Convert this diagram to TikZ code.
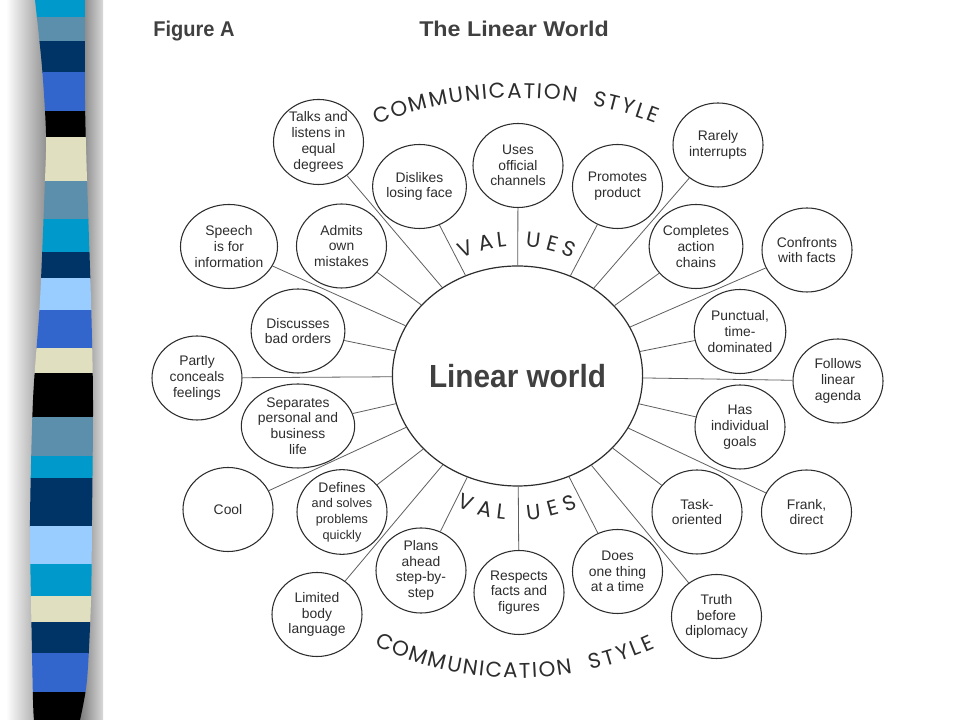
\documentclass[tikz,border=0pt]{standalone}
\usepackage{graphicx}
\usepackage{fontspec}
\setmainfont{Liberation Sans}
\newfontfamily\arcfont{Poppins}
\usetikzlibrary{shapes.geometric,decorations.text,calc}

\definecolor{sCyan}{RGB}{0,153,204}
\definecolor{sSteel}{RGB}{92,143,172}
\definecolor{sNavy}{RGB}{0,51,102}
\definecolor{sRoyal}{RGB}{51,102,204}
\definecolor{sBeige}{RGB}{224,224,192}
\definecolor{sLight}{RGB}{153,204,255}
\definecolor{sBlack}{RGB}{0,0,0}
\definecolor{ink}{RGB}{45,45,45}
\definecolor{hubink}{RGB}{64,64,64}
\definecolor{wire}{RGB}{95,95,95}

\begin{document}
\begin{tikzpicture}[x=0.75pt,y=0.75pt,
  bubble/.style={ellipse, draw=ink, line width=0.8pt, fill=white,
    minimum width=67.5pt, minimum height=63pt, inner sep=0pt, align=center,
    text=ink, font=\fontsize{10.4}{11.8}\selectfont},
  spoke/.style={draw=wire, line width=0.6pt},
  arcletter/.style={inner sep=0pt, text=ink, font=\arcfont\fontsize{16}{16}\selectfont},
  titletext/.style={inner sep=0pt, anchor=base west, text=hubink, font=\bfseries\fontsize{16}{16}\selectfont},
]
\useasboundingbox (0,0) rectangle (960,720);
\fill[white] (0,0) rectangle (960,720);

% ---- decorative stripe with shadows ----
\shade[left color=white, right color=black!45] (6,0) rectangle (48,720);
\shade[left color=black!55, right color=black!15] (78,0) rectangle (103,720);
\begin{scope}
  \clip plot[smooth] coordinates {(35,720) (42,653) (46,587) (45,540) (40,420) (33,320) (30,200) (31,120) (33,20) (34,0)}
     -- plot[smooth] coordinates {(80,0) (87,40) (91,120) (92,200) (93,320) (91,420) (87,540) (85,620) (85,720)} -- cycle;
  \foreach \a/\b/\c in {702/720/sCyan, 678/702/sSteel, 647/678/sNavy, 608/647/sRoyal,
      582/608/sBlack, 538/582/sBeige, 500/538/sSteel, 467/500/sCyan, 441/467/sNavy,
      409/441/sLight, 371/409/sRoyal, 346/371/sBeige, 302/346/sBlack, 263/302/sSteel,
      241/263/sCyan, 193/241/sNavy, 155/193/sLight, 123/155/sCyan, 97/123/sBeige,
      66/97/sNavy, 27/66/sRoyal, 0/27/sBlack}
    \fill[\c] (20,\a) rectangle (100,\b+0.6);
\end{scope}

% ---- titles ----
\node[titletext] (figA) at (153,683) {\scalebox{0.94}[1]{Figure A}};
\node[titletext] (figT) at (419,683) {\scalebox{1.09}[1]{The Linear World}};

% ---- hub ----
\node[ellipse, draw=ink, line width=0.9pt, fill=white, minimum width=173.25pt,
  minimum height=165pt, inner sep=0pt, text=hubink,
  font=\bfseries\fontsize{24}{24}\selectfont] (hub) at (517.5,344)
  {\scalebox{0.93}[1]{Linear world}};

% ---- bubbles ----
\node[bubble] (talks)     at (318.5,578)   {Talks and\\listens in\\equal\\degrees};
\node[bubble] (dislikes)  at (419.5,533.5) {Dislikes\\losing face};
\node[bubble] (uses)      at (518,554.5)   {Uses\\official\\channels};
\node[bubble] (promotes)  at (617.5,533.5) {Promotes\\product};
\node[bubble] (rarely)    at (718,575)     {Rarely\\interrupts};
\node[bubble] (completes) at (696,473.5)   {Completes\\action\\chains};
\node[bubble] (confronts) at (807,470)     {Confronts\\with facts};
\node[bubble] (punctual)  at (740,388.5)   {Punctual,\\time-\\dominated};
\node[bubble] (follows)   at (838,339)     {Follows\\linear\\agenda};
\node[bubble] (has)       at (740,293)     {Has\\individual\\goals};
\node[bubble] (task)      at (697,208)     {Task-\\oriented};
\node[bubble] (frank)     at (806.5,208)   {Frank,\\direct};
\node[bubble] (truth)     at (716.5,103.5) {Truth\\before\\diplomacy};
\node[bubble] (does)      at (617.5,148.5) {Does\\one thing\\at a time};
\node[bubble] (respects)  at (519,127.5)   {Respects\\facts and\\figures};
\node[bubble] (plans)     at (421,149.5)   {Plans\\ahead\\step-by-\\step};
\node[bubble] (limited)   at (317,105.5)   {Limited\\body\\language};
\node[bubble] (defines)   at (342,208)     {Defines\\{\fontsize{9.5}{11.8}\selectfont and solves}\\{\fontsize{9.5}{11.8}\selectfont problems}\\{\fontsize{9.5}{11.8}\selectfont quickly}};
\node[bubble] (cool)      at (228,210.5)   {Cool};
\node[bubble] (separates) at (298,294)     {Separates\\personal and\\business\\life};
\node[bubble] (partly)    at (197,342)     {Partly\\conceals\\feelings};
\node[bubble] (discusses) at (298,389)     {Discusses\\bad orders};
\node[bubble] (speech)    at (229,473.5)   {Speech\\is for\\information};
\node[bubble] (admits)    at (341.5,474)   {Admits\\own\\mistakes};

% ---- spokes ----
\foreach \n in {talks,dislikes,uses,promotes,rarely,completes,confronts,punctual,
    follows,has,task,frank,truth,does,respects,plans,limited,defines,cool,
    separates,partly,discusses,speech,admits}
  \draw[spoke] (hub) -- (\n);

% ---- VALUES (top and bottom) ----
\foreach \ch/\ang [count=\i] in {V/112.3, A/103.5, L/96.8, U/83.3, E/75, S/67.7}
  \node[arcletter, rotate=\ang-90] (vtop\i) at ({517.5+137*cos(\ang)},{344+137*sin(\ang)}) {\ch};
\foreach \ch/\ang [count=\i] in {V/-112.3, A/-103.5, L/-96.8, U/-83.3, E/-75, S/-67.7}
  \node[arcletter, rotate=\ang+90] (vbot\i) at ({517.5+137*cos(\ang)},{344+137*sin(\ang)}) {\ch};

% ---- COMMUNICATION STYLE (top) ----
\path[decorate, decoration={text along path, text align=fit to path,
    text={|\arcfont\fontsize{16}{16}\selectfont\color{ink}|COMMUNICATION}}]
  ($(517.5,344)+(115.3:247.5pt and 208.5pt)$) arc[start angle=115.3, end angle=79.7, x radius=247.5pt, y radius=208.5pt];
\path[decorate, decoration={text along path, text align=fit to path,
    text={|\arcfont\fontsize{16}{16}\selectfont\color{ink}|STYLE}}]
  ($(517.5,344)+(76.9:247.5pt and 208.5pt)$) arc[start angle=76.9, end angle=65.2, x radius=247.5pt, y radius=208.5pt];

% ---- COMMUNICATION STYLE (bottom) ----
\path[decorate, decoration={text along path, text align=fit to path,
    text={|\arcfont\fontsize{16}{16}\selectfont\color{ink}|COMMUNICATION}}]
  ($(517.5,344)+(-117:237pt and 226.5pt)$) arc[start angle=-117, end angle=-80, x radius=237pt, y radius=226.5pt];
\path[decorate, decoration={text along path, text align=fit to path,
    text={|\arcfont\fontsize{16}{16}\selectfont\color{ink}|STYLE}}]
  ($(517.5,344)+(-76.6:237pt and 226.5pt)$) arc[start angle=-76.6, end angle=-64.2, x radius=237pt, y radius=226.5pt];
\end{tikzpicture}
\end{document}
